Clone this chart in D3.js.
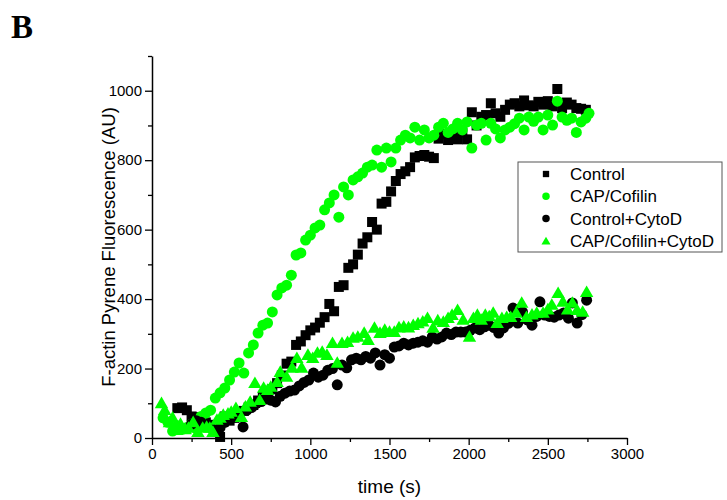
<!DOCTYPE html>
<html>
<head>
<meta charset="utf-8">
<script src="https://cdnjs.cloudflare.com/ajax/libs/d3/7.8.5/d3.min.js"></script>
<style>
  body { margin: 0; background: #fff; }
  .tick text { font-family: Arial, "Liberation Sans", sans-serif; }
</style>
</head>
<body>
<div id="chart"></div>
<script>
var svgWidth = 727;
var svgHeight = 500;

var margin = { top: 56, right: 100, left: 152, bottom: 62 };
var width = 475;
var height = 382;

// series as [time (s), fluorescence (AU)]
var control = [
  [160, 86], [190, 88], [220, 80], [250, 62], [280, 60], [310, 52], [340, 45], [370, 38],
  [400, 20], [430, 3], [460, 62], [490, 50], [520, 58], [550, 72], [580, 78], [610, 88],
  [640, 95], [670, 108], [700, 118], [730, 124], [760, 140], [790, 158], [820, 180], [850, 214],
  [880, 220], [910, 268], [940, 278], [970, 296], [1000, 310], [1030, 318], [1060, 332], [1090, 348],
  [1120, 386], [1150, 365], [1180, 435], [1210, 440], [1240, 490], [1270, 500], [1300, 528], [1330, 560],
  [1360, 578], [1390, 622], [1420, 600], [1450, 675], [1480, 680], [1510, 710], [1540, 740], [1570, 760],
  [1600, 768], [1630, 780], [1660, 808], [1690, 812], [1720, 815], [1750, 810], [1780, 806], [1810, 862],
  [1840, 875], [1870, 858], [1900, 878], [1930, 860], [1960, 880], [1990, 860], [2020, 938], [2050, 900],
  [2080, 925], [2110, 930], [2140, 964], [2170, 935], [2200, 925], [2230, 945], [2260, 960], [2290, 964],
  [2320, 955], [2350, 972], [2380, 958], [2410, 955], [2440, 968], [2470, 960], [2500, 970], [2530, 955],
  [2560, 1005], [2590, 950], [2620, 966], [2650, 960], [2680, 950], [2710, 948], [2740, 945]
];

var capCofilin = [
  [70, 58], [100, 45], [130, 20], [160, 35], [190, 25], [220, 30], [250, 40], [280, 28],
  [310, 62], [340, 72], [370, 80], [400, 115], [430, 130], [460, 144], [490, 167], [520, 190],
  [550, 216], [580, 187], [610, 245], [640, 268], [670, 302], [700, 325], [730, 331], [760, 363],
  [790, 412], [820, 432], [850, 440], [880, 469], [910, 527], [940, 533], [970, 570], [1000, 584],
  [1030, 605], [1060, 613], [1090, 657], [1120, 677], [1150, 700], [1180, 636], [1210, 723], [1240, 700],
  [1270, 743], [1300, 752], [1330, 763], [1360, 780], [1390, 786], [1420, 829], [1450, 780], [1480, 835],
  [1510, 795], [1540, 835], [1570, 858], [1600, 872], [1630, 864], [1660, 895], [1690, 858], [1720, 887],
  [1750, 864], [1780, 872], [1810, 895], [1840, 906], [1870, 880], [1900, 890], [1930, 906], [1960, 887],
  [1990, 910], [2020, 835], [2050, 901], [2080, 906], [2110, 858], [2140, 906], [2170, 890], [2200, 864],
  [2230, 887], [2260, 895], [2290, 905], [2320, 921], [2350, 887], [2380, 924], [2410, 912], [2440, 924],
  [2470, 887], [2500, 930], [2530, 901], [2560, 970], [2590, 924], [2620, 915], [2650, 921], [2680, 880],
  [2710, 910], [2740, 921], [2760, 935]
];

var controlCytoD = [
  [250, 40], [280, 50], [310, 45], [340, 35], [370, 30], [400, 20], [430, 30], [460, 45],
  [490, 55], [520, 60], [550, 70], [575, 32], [600, 80], [630, 88], [660, 100], [690, 105],
  [720, 112], [750, 109], [780, 104], [810, 120], [840, 129], [870, 135], [900, 138], [930, 150],
  [960, 160], [990, 167], [1020, 187], [1050, 175], [1080, 181], [1110, 195], [1140, 200], [1170, 153],
  [1200, 210], [1230, 202], [1260, 225], [1290, 230], [1320, 225], [1350, 235], [1380, 230], [1410, 245],
  [1440, 210], [1470, 240], [1500, 230], [1530, 262], [1560, 265], [1590, 273], [1620, 268], [1650, 273],
  [1680, 276], [1710, 280], [1740, 276], [1770, 291], [1800, 285], [1830, 291], [1860, 302], [1890, 298],
  [1920, 305], [1950, 305], [1980, 305], [2010, 310], [2040, 317], [2070, 312], [2100, 320], [2130, 325],
  [2160, 318], [2190, 302], [2220, 317], [2250, 330], [2280, 374], [2310, 331], [2340, 363], [2370, 340],
  [2400, 325], [2430, 350], [2450, 392], [2480, 354], [2510, 350], [2540, 348], [2570, 354], [2600, 360],
  [2630, 345], [2655, 389], [2685, 331], [2715, 355], [2745, 397]
];

var capCofilinCytoD = [
  [60, 100], [80, 80], [110, 45], [130, 58], [155, 23], [180, 40], [210, 25], [230, 29],
  [260, 45], [290, 17], [320, 29], [345, 32], [365, 29], [385, 17], [410, 52], [430, 58],
  [450, 66], [480, 70], [500, 75], [530, 86], [565, 60], [590, 90], [620, 104], [650, 158],
  [680, 109], [705, 144], [730, 138], [750, 147], [790, 161], [810, 190], [850, 176], [885, 202],
  [915, 230], [945, 202], [985, 239], [1015, 230], [1045, 245], [1075, 248], [1105, 239], [1140, 273],
  [1170, 216], [1200, 273], [1235, 276], [1270, 288], [1300, 291], [1340, 302], [1365, 282], [1405, 317],
  [1440, 302], [1470, 311], [1500, 305], [1530, 305], [1560, 318], [1590, 320], [1620, 318], [1650, 325],
  [1680, 330], [1710, 335], [1740, 345], [1775, 317], [1805, 338], [1840, 334], [1870, 345], [1895, 354],
  [1930, 368], [1965, 340], [2005, 291], [2030, 345], [2055, 354], [2080, 340], [2105, 354], [2130, 350],
  [2155, 360], [2180, 331], [2210, 345], [2240, 348], [2265, 348], [2300, 360], [2335, 389], [2365, 348],
  [2400, 355], [2430, 360], [2470, 360], [2500, 370], [2525, 383], [2565, 417], [2595, 392], [2625, 370],
  [2655, 389], [2685, 368], [2720, 363], [2745, 420]
];

var seriesNames = ["Control", "CAP/Cofilin", "Control+CytoD", "CAP/Cofilin+CytoD"];
var seriesColors = ["#000000", "#00ff00", "#000000", "#00ff00"];
var seriesShapes = ["square", "circle", "circle", "triangle"];

var xMajorTicks = [0, 500, 1000, 1500, 2000, 2500, 3000];
var xMinorTicks = [250, 750, 1250, 1750, 2250, 2750];
var yMajorTicks = [0, 200, 400, 600, 800, 1000];
var yMinorTicks = [100, 300, 500, 700, 900, 1100];

var svg = d3.select("#chart")
  .append("svg")
  .attr("width", svgWidth)
  .attr("height", svgHeight);

var chartGroup = svg.append("g")
  .attr("transform", `translate(${margin.left}, ${margin.top})`);

var x = d3.scaleLinear().domain([0, 3000]).range([0, width]);
var y = d3.scaleLinear().domain([0, 1100]).range([height, 0]);

var symbolTypes = {
  square: d3.symbolSquare,
  circle: d3.symbolCircle,
  triangle: d3.symbolTriangle
};
// symbol areas for plot markers and legend markers
var plotSize = { square: 100, circle: 95, triangle: 78 };
var legendSize = { square: 40, circle: 44, triangle: 36 };

var allSeries = [control, capCofilin, controlCytoD, capCofilinCytoD];

allSeries.forEach(function(data, i) {
  var shape = seriesShapes[i];
  var sym = d3.symbol().type(symbolTypes[shape]).size(plotSize[shape]);
  chartGroup.append("g")
    .selectAll("path")
    .data(data)
    .enter()
    .append("path")
    .attr("d", sym)
    .attr("transform", d => `translate(${x(d[0])}, ${y(d[1]) + (shape === "triangle" ? 1 : 0)})`)
    .attr("fill", seriesColors[i]);
});

// axes: major + minor ticks, pointing outward
function styleAxis(g) {
  g.select(".domain").attr("stroke", "#000").attr("stroke-width", 1.5);
  g.selectAll(".tick line").attr("stroke", "#000").attr("stroke-width", 1.3);
  g.selectAll(".tick text").attr("font-size", "15px").attr("fill", "#000");
}

var xAxis = chartGroup.append("g")
  .attr("transform", `translate(0, ${height})`)
  .call(d3.axisBottom(x).tickValues(xMajorTicks).tickSize(7).tickSizeOuter(0).tickPadding(3).tickFormat(d3.format("d")))
  .call(styleAxis);

chartGroup.append("g")
  .attr("transform", `translate(0, ${height})`)
  .call(d3.axisBottom(x).tickValues(xMinorTicks).tickSize(4).tickFormat(""))
  .call(g => g.select(".domain").remove())
  .call(styleAxis);

chartGroup.append("g")
  .call(d3.axisLeft(y).tickValues(yMajorTicks).tickSize(7).tickSizeOuter(0).tickPadding(3).tickFormat(d3.format("d")))
  .call(styleAxis);

chartGroup.append("g")
  .call(d3.axisLeft(y).tickValues(yMinorTicks).tickSize(4).tickFormat(""))
  .call(g => g.select(".domain").remove())
  .call(styleAxis);

// axis titles
chartGroup.append("text")
  .attr("x", width / 2)
  .attr("y", height + 55)
  .attr("text-anchor", "middle")
  .attr("font-family", "Arial, 'Liberation Sans', sans-serif")
  .attr("font-size", "19px")
  .text("time (s)");

chartGroup.append("text")
  .attr("transform", "rotate(-90)")
  .attr("x", 0 - (height / 2))
  .attr("y", -37)
  .attr("text-anchor", "middle")
  .attr("font-family", "Arial, 'Liberation Sans', sans-serif")
  .attr("font-size", "18.5px")
  .text("F-actin Pyrene Fluorescence (AU)");

// panel letter
svg.append("text")
  .attr("x", 11)
  .attr("y", 38)
  .attr("font-family", "'Liberation Serif', 'Times New Roman', serif")
  .attr("font-weight", "bold")
  .attr("font-size", "33px")
  .text("B");

// legend
var legend = svg.append("g")
  .attr("transform", "translate(518, 162)");

legend.append("rect")
  .attr("x", 0)
  .attr("y", 0)
  .attr("width", 204)
  .attr("height", 90)
  .attr("fill", "#fff")
  .attr("stroke", "#555")
  .attr("stroke-width", 1);

seriesNames.forEach(function(name, i) {
  var shape = seriesShapes[i];
  var rowY = 12 + i * 22.3;
  legend.append("path")
    .attr("d", d3.symbol().type(symbolTypes[shape]).size(legendSize[shape]))
    .attr("transform", `translate(28, ${rowY + (shape === "triangle" ? 1 : 0)})`)
    .attr("fill", seriesColors[i]);
  legend.append("text")
    .attr("x", 52)
    .attr("y", rowY + 6)
    .attr("font-family", "Arial, 'Liberation Sans', sans-serif")
    .attr("font-size", "17px")
    .text(name);
});
</script>
</body>
</html>
